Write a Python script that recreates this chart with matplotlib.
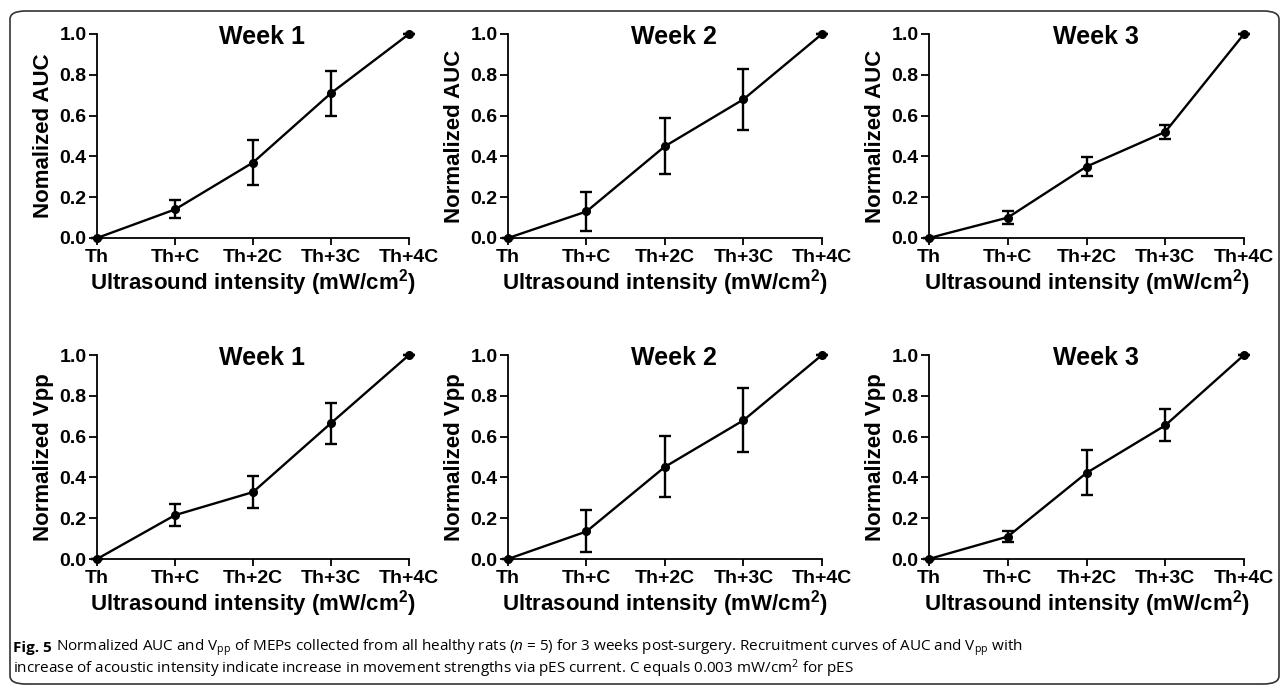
import matplotlib
matplotlib.use("Agg")
import matplotlib.pyplot as plt
from matplotlib.patches import FancyBboxPatch

plt.rcParams['font.family'] = ['Liberation Sans', 'DejaVu Sans']
plt.rcParams['mathtext.fontset'] = 'custom'
plt.rcParams['mathtext.rm'] = 'Open Sans'
plt.rcParams['mathtext.it'] = 'Open Sans:italic'
plt.rcParams['mathtext.bf'] = 'Liberation Sans:bold'

# categories
intensity = ["Th", "Th+C", "Th+2C", "Th+3C", "Th+4C"]
weeks = ["Week 1", "Week 2", "Week 3"]

# normalized AUC (mean, error)
auc_w1 = [0.0, 0.14, 0.37, 0.71, 1.0]
auc_w1_err = [0.0, 0.044, 0.11, 0.11, 0.0]
auc_w2 = [0.0, 0.13, 0.45, 0.68, 1.0]
auc_w2_err = [0.0, 0.096, 0.138, 0.15, 0.0]
auc_w3 = [0.0, 0.10, 0.35, 0.52, 1.0]
auc_w3_err = [0.0, 0.033, 0.048, 0.035, 0.0]

# normalized Vpp (mean, error)
vpp_w1 = [0.0, 0.215, 0.328, 0.666, 1.0]
vpp_w1_err = [0.0, 0.055, 0.079, 0.10, 0.0]
vpp_w2 = [0.0, 0.135, 0.452, 0.68, 1.0]
vpp_w2_err = [0.0, 0.103, 0.149, 0.156, 0.0]
vpp_w3 = [0.0, 0.11, 0.422, 0.655, 1.0]
vpp_w3_err = [0.0, 0.028, 0.11, 0.078, 0.0]

auc_labels = ["Nomalized AUC", "Normalized AUC", "Normalized AUC"]
vpp_labels = ["Normalized Vpp", "Normalized Vpp", "Normalized Vpp"]

rows = [
    (auc_labels, [auc_w1, auc_w2, auc_w3], [auc_w1_err, auc_w2_err, auc_w3_err]),
    (vpp_labels, [vpp_w1, vpp_w2, vpp_w3], [vpp_w1_err, vpp_w2_err, vpp_w3_err]),
]

W, H = 1287, 691
fig = plt.figure(figsize=(W / 100, H / 100), dpi=100)

# panel boxes in pixels: (left, right), (top, bottom)
col_px = [(97, 409), (508, 822), (929, 1244)]
row_px = [(34, 238), (355, 559)]

for r, (ylabels, means, errs) in enumerate(rows):
    top, bot = row_px[r]
    for c in range(3):
        left, right = col_px[c]
        ax = fig.add_axes([left / W, 1 - bot / H, (right - left) / W, (bot - top) / H])
        x = list(range(len(intensity)))
        ax.errorbar(x, means[c], yerr=errs[c], color='black', lw=1.7,
                    marker='o', markersize=5.5, capsize=4, capthick=1.7,
                    elinewidth=1.7, clip_on=False, zorder=3)
        ax.set_xlim(0, 4)
        ax.set_ylim(0, 1.0)
        ax.set_xticks(x)
        ax.set_xticklabels(intensity, fontsize=14, fontweight='bold')
        ax.set_yticks([0, 0.2, 0.4, 0.6, 0.8, 1.0])
        ax.set_yticklabels([f"{v:.1f}" for v in [0, 0.2, 0.4, 0.6, 0.8, 1.0]],
                           fontsize=14, fontweight='bold')
        for s in ['top', 'right']:
            ax.spines[s].set_visible(False)
        for s in ['left', 'bottom']:
            ax.spines[s].set_linewidth(1.3)
        ax.tick_params(axis='x', direction='out', length=5, width=1.3, pad=3)
        ax.tick_params(axis='y', direction='out', length=6, width=1.3, pad=1.5)
        ax.set_ylabel(ylabels[c], fontsize=16, fontweight='bold', labelpad=4)
        ax.set_xlabel(r'Ultrasound intensity (mW/cm$\mathbf{^2}$)',
                      fontsize=16, fontweight='bold', labelpad=1)
        ax.text(0.53, 0.985, weeks[c], transform=ax.transAxes, ha='center',
                va='center', fontsize=18, fontweight='bold')

# rounded frame
frame = FancyBboxPatch((10 / W, 1 - 684 / H), (1279 - 10) / W, (684 - 11) / H,
                       boxstyle="round,pad=0,rounding_size=0.012",
                       transform=fig.transFigure, fill=False,
                       edgecolor='#333333', lw=1.2)
fig.patches.append(frame)

# caption
fig_lbl = fig.text(13 / W, 1 - 648 / H, "Fig. 5", fontsize=11, fontweight='bold',
                   va='center', ha='left', family='Open Sans')
fig.canvas.draw()
bb = fig_lbl.get_window_extent()
fig.text((bb.x1 + 4) / W, 1 - 648 / H,
         r"Normalized AUC and V$_{\mathrm{pp}}$ of MEPs collected from all healthy rats ($\mathit{n}$ = 5) "
         r"for 3 weeks post-surgery. Recruitment curves of AUC and V$_{\mathrm{pp}}$ with",
         fontsize=11, va='center', ha='left', family='Open Sans')
fig.text(13 / W, 1 - 669 / H,
         r"increase of acoustic intensity indicate increase in movement strengths via pES current. "
         r"C equals 0.003 mW/cm$^{2}$ for pES",
         fontsize=11, va='center', ha='left', family='Open Sans')

fig.savefig("out.png", dpi=100)
